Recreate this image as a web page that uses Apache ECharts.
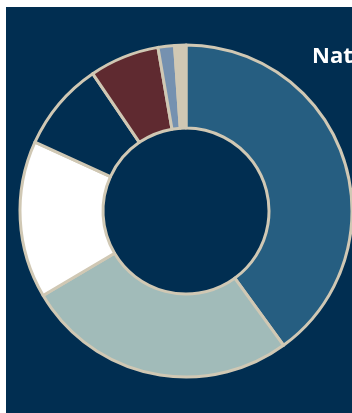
<!DOCTYPE html>
<html>
<head>
<meta charset="utf-8">
<script src="https://cdn.jsdelivr.net/npm/echarts@6/dist/echarts.min.js"></script>
<style>
  html, body { margin: 0; padding: 0; background: #ffffff; }
  #chart { position: absolute; left: 6px; top: 7px; width: 346px; height: 406px; background: #012e51; }
</style>
</head>
<body>
<div id="chart"></div>
<script>
const categories = ['A', 'B', 'C', 'D', 'E', 'F', 'G'];
const values = [40.0, 26.5, 15.3, 8.7, 6.8, 1.6, 1.1];
const colors = ['#265e81', '#a1bbb9', '#ffffff', '#012e51', '#5f2a30', '#7591b0', '#d0c8b4'];
const titleText = 'National';

const chart = echarts.init(document.getElementById('chart'), null, { renderer: 'canvas' });
chart.setOption({
  backgroundColor: '#012e51',
  animation: false,
  graphic: [{
    type: 'text',
    left: 306,
    top: 39,
    style: {
      text: titleText,
      fill: '#ffffff',
      font: 'bold 22px "Open Sans", sans-serif'
    }
  }],
  series: [{
    type: 'pie',
    center: [180, 204],
    radius: [83, 166],
    startAngle: 90,
    clockwise: true,
    label: { show: false },
    labelLine: { show: false },
    itemStyle: { borderColor: '#d0c8b4', borderWidth: 3 },
    emphasis: { disabled: true },
    data: categories.map((c, i) => ({ name: c, value: values[i], itemStyle: { color: colors[i] } }))
  }]
});
</script>
</body>
</html>
